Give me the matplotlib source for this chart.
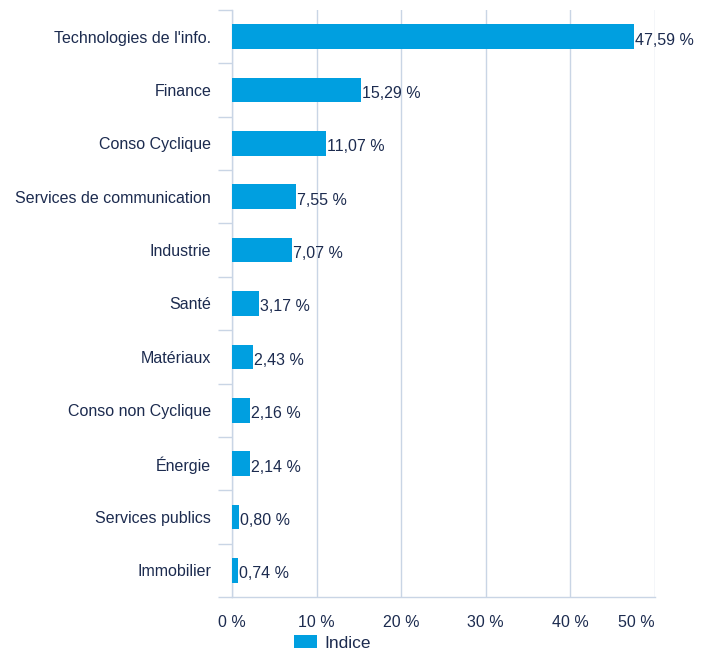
import matplotlib
matplotlib.use("Agg")
import matplotlib.pyplot as plt
import numpy as np

categories = ["Technologies de l'info.", "Finance", "Conso Cyclique",
              "Services de communication", "Industrie", "Santé", "Matériaux",
              "Conso non Cyclique", "Énergie", "Services publics", "Immobilier"]
values = [47.59, 15.29, 11.07, 7.55, 7.07, 3.17, 2.43, 2.16, 2.14, 0.80, 0.74]
xticks = [0, 10, 20, 30, 40, 50]
series_name = "Indice"

BAR = "#009FE0"
TXT = "#1C2B4F"
GRID = "#C9D5E5"
FS = 11.5

plt.rcParams['font.family'] = ['Liberation Sans', 'DejaVu Sans']

fig = plt.figure(figsize=(7.09, 6.52), dpi=100)
ax = fig.add_axes([232/709, 55/652, 422.5/709, 587/652])

n = len(categories)
y = np.arange(n)
bars = ax.barh(y, values, height=0.46, color=BAR, label=series_name, zorder=3)
ax.set_ylim(n - 0.5, -0.5)
ax.set_xlim(0, 50)

for yi, v in zip(y, values):
    ax.annotate(f"{v:.2f} %".replace(".", ","), (v, yi), xytext=(0.8, -2.5),
                textcoords="offset points", va="center", ha="left",
                fontsize=FS, color=TXT, zorder=4)

ax.set_xticks(xticks)
ax.set_xticklabels([f"{t} %" for t in xticks], fontsize=FS, color=TXT)
lbls = ax.get_xticklabels()
lbls[-1].set_horizontalalignment('right')
ax.tick_params(axis='x', length=0, pad=13)
ax.grid(axis='x', color=GRID, linewidth=1, zorder=0)

ax.set_yticks(y)
ax.set_yticklabels(categories, fontsize=FS, color=TXT)
ax.tick_params(axis='y', which='major', length=0, pad=15)
ax.set_yticks(np.arange(-0.5, n + 0.5, 1), minor=True)
ax.tick_params(axis='y', which='minor', length=10, width=1, color=GRID, direction='out')

ax.spines['top'].set_visible(False)
ax.spines['right'].set_visible(False)
ax.spines['left'].set_color(GRID)
ax.spines['bottom'].set_color(GRID)
ax.spines['left'].set_linewidth(1)
ax.spines['bottom'].set_linewidth(1)

fig.legend(handles=[bars], labels=[series_name], loc='center', bbox_to_anchor=(0.469, 0.0138),
           frameon=False, fontsize=12.5, labelcolor=TXT, handlelength=1.33, handleheight=0.8,
           handletextpad=0.46, borderpad=0)

fig.savefig("out.png", dpi=100)
